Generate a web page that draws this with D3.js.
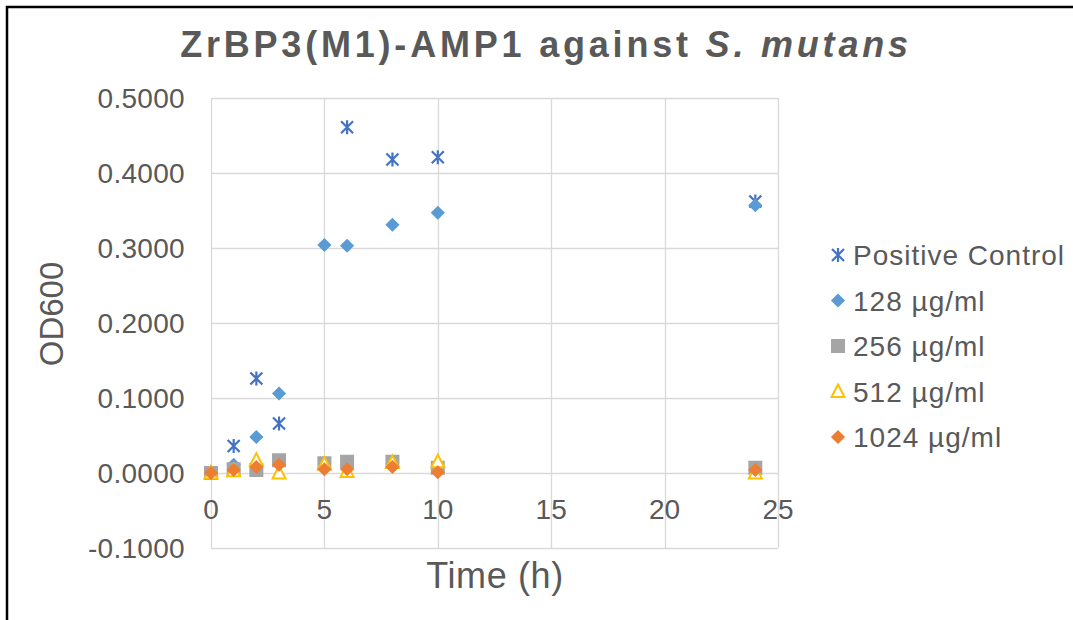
<!DOCTYPE html>
<html>
<head>
<meta charset="utf-8">
<script src="https://cdn.jsdelivr.net/npm/d3@7"></script>
<style>
  body { margin: 0; background: #fff; }
  text { font-family: "Liberation Sans", Arial, sans-serif; fill: #595959; }
</style>
</head>
<body>
<div id="chart"></div>
<script>
// data
var times = [0, 1, 2, 3, 5, 6, 8, 10, 24];
var positiveControl = [0.000, 0.036, 0.126, 0.066, null, 0.461, 0.418, 0.421, 0.362];
var conc128 = [0.000, 0.011, 0.048, 0.106, 0.304, 0.303, 0.331, 0.347, 0.357];
var conc256 = [0.000, 0.005, 0.004, 0.017, 0.013, 0.015, 0.015, 0.007, 0.007];
var conc512 = [0.000, 0.003, 0.017, 0.000, 0.012, 0.002, 0.014, 0.015, 0.000];
var conc1024 = [0.000, 0.004, 0.008, 0.011, 0.005, 0.005, 0.008, 0.001, 0.004];
var seriesNames = ["Positive Control", "128 \u00b5g/ml", "256 \u00b5g/ml", "512 \u00b5g/ml", "1024 \u00b5g/ml"];
var xTicks = [0, 5, 10, 15, 20, 25];
var yTicks = [-0.1, 0, 0.1, 0.2, 0.3, 0.4, 0.5];

var W = 1073, H = 620;
var plot = { left: 211, right: 778, top: 98, bottom: 548 };

var svg = d3.select("#chart")
    .append("svg")
    .attr("width", W)
    .attr("height", H);

// frame (only left and top edges are visible in the crop)
svg.append("path")
    .attr("d", "M7,620 L7,7 L1073,7")
    .attr("fill", "none")
    .attr("stroke", "#000")
    .attr("stroke-width", 2.5);

var x = d3.scaleLinear().domain([0, 25]).range([plot.left, plot.right]);
var y = d3.scaleLinear().domain([-0.1, 0.5]).range([plot.bottom, plot.top]);

// gridlines
svg.append("g")
    .selectAll("line.h")
    .data(yTicks)
    .enter()
    .append("line")
    .attr("x1", plot.left)
    .attr("x2", plot.right)
    .attr("y1", d => Math.round(y(d)) + 0.5)
    .attr("y2", d => Math.round(y(d)) + 0.5)
    .attr("stroke", "#d9d9d9")
    .attr("stroke-width", 1.3);

svg.append("g")
    .selectAll("line.v")
    .data(xTicks)
    .enter()
    .append("line")
    .attr("y1", plot.top)
    .attr("y2", plot.bottom)
    .attr("x1", d => Math.round(x(d)) + 0.5)
    .attr("x2", d => Math.round(x(d)) + 0.5)
    .attr("stroke", "#d9d9d9")
    .attr("stroke-width", 1.3);

// tick labels
svg.append("g")
    .selectAll("text")
    .data(yTicks)
    .enter()
    .append("text")
    .attr("x", 185)
    .attr("y", d => y(d))
    .attr("dy", "0.36em")
    .attr("text-anchor", "end")
    .style("font-size", "28px")
    .style("letter-spacing", "0.3px")
    .text(d => d3.format(".4f")(d).replace("\u2212", "-"));

svg.append("g")
    .selectAll("text")
    .data(xTicks)
    .enter()
    .append("text")
    .attr("x", d => x(d))
    .attr("y", 519)
    .attr("text-anchor", "middle")
    .style("font-size", "28px")
    .text(d => d);

// axis titles
svg.append("text")
    .attr("transform", "translate(63,314) rotate(-90)")
    .attr("text-anchor", "middle")
    .style("font-size", "33px")
    .text("OD600");

svg.append("text")
    .attr("x", 495)
    .attr("y", 588)
    .attr("text-anchor", "middle")
    .style("font-size", "36px")
    .style("letter-spacing", "0.6px")
    .text("Time (h)");

// title
var title = svg.append("text")
    .attr("x", 546)
    .attr("y", 57)
    .attr("text-anchor", "middle")
    .style("font-size", "36px")
    .style("font-weight", "bold")
    .style("letter-spacing", "3.8px");
title.append("tspan").text("ZrBP3(M1)-AMP1 against ");
title.append("tspan").style("font-style", "italic").text("S. mutans");

// marker shapes
var markers = [
    { color: "#4472C4", draw: function(g) {
        g.append("path")
            .attr("d", "M-6,-6L6,6M-6,6L6,-6M0,-7L0,7")
            .attr("stroke", "#4472C4")
            .attr("stroke-width", 2.2)
            .attr("fill", "none");
    } },
    { color: "#5B9BD5", draw: function(g) {
        g.append("path")
            .attr("d", d3.symbol().type(d3.symbolSquare).size(100)())
            .attr("transform", "rotate(45)")
            .attr("fill", "#5B9BD5");
    } },
    { color: "#A5A5A5", draw: function(g) {
        g.append("path")
            .attr("d", d3.symbol().type(d3.symbolSquare).size(196)())
            .attr("fill", "#A5A5A5");
    } },
    { color: "#FFC000", draw: function(g) {
        g.append("path")
            .attr("d", "M0,-7L6.5,5.5L-6.5,5.5Z")
            .attr("fill", "#fff")
            .attr("stroke", "#FFC000")
            .attr("stroke-width", 2);
    } },
    { color: "#ED7D31", draw: function(g) {
        g.append("path")
            .attr("d", d3.symbol().type(d3.symbolSquare).size(100)())
            .attr("transform", "rotate(45)")
            .attr("fill", "#ED7D31");
    } }
];

var allSeries = [positiveControl, conc128, conc256, conc512, conc1024];

allSeries.forEach(function(values, i) {
    var pts = times.map((t, j) => ({ t: t, v: values[j] })).filter(d => d.v !== null);
    svg.append("g")
        .selectAll("g")
        .data(pts)
        .enter()
        .append("g")
        .attr("transform", d => "translate(" + x(d.t) + "," + y(d.v) + ")")
        .each(function() { markers[i].draw(d3.select(this)); });
});

// legend
var legend = svg.append("g");
seriesNames.forEach(function(name, i) {
    var ly = 255 + i * 45.5;
    var mg = legend.append("g").attr("transform", "translate(838," + ly + ")");
    markers[i].draw(mg);
    legend.append("text")
        .attr("x", 853)
        .attr("y", ly)
        .attr("dy", "0.36em")
        .style("font-size", "28px")
        .style("letter-spacing", "1px")
        .text(name);
});
</script>
</body>
</html>
